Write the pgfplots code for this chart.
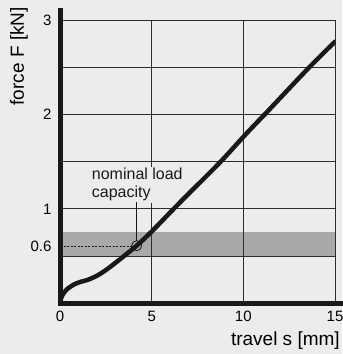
\documentclass[border=0pt]{standalone}
\usepackage{fontspec}
\setmainfont{Liberation Sans}
\usepackage{pgfplots}
\pgfplotsset{compat=1.18}
\usetikzlibrary{calc}
\definecolor{bg}{RGB}{236,236,238}
\definecolor{band}{RGB}{168,169,171}
\definecolor{gridc}{RGB}{45,45,45}
\definecolor{ink}{RGB}{25,25,25}
\pagecolor{bg}
\begin{document}
\begin{tikzpicture}
\begin{axis}[
    name=ax,
    set layers,
    scale only axis,
    width=275pt, height=283.3pt,
    xmin=0, xmax=15, ymin=0, ymax=3,
    axis lines=left,
    axis line style={-, line width=5pt, ink, line cap=rect},
    x axis line style={shorten >=-8pt},
    y axis line style={shorten >=-9.5pt},
    xtick={0,5,10,15},
    ytick={1,2,3},
    minor ytick={0.5,1.5,2.5},
    extra y ticks={0.6},
    extra y tick style={grid=none},
    xmajorgrids, ymajorgrids, yminorgrids,
    major grid style={gridc, line width=0.9pt},
    minor grid style={gridc, line width=0.9pt},
    major tick length=0pt, minor tick length=0pt,
    tick label style={font=\fontsize{15}{18}\selectfont},
    /pgf/number format/assume math mode=true,
    xticklabel style={yshift=-4pt},
    yticklabel style={xshift=-5pt},
    xlabel={travel s [mm]},
    ylabel={force F [kN]},
    label style={font=\fontsize{19}{22}\selectfont, inner sep=0pt},
    xlabel style={at={(axis description cs:1.018,-0.133)}, anchor=east},
    ylabel style={at={(axis description cs:-0.149,1.046)}, anchor=east},
]
% tolerance band
\addplot[on layer=axis background, fill=band, draw=none]
    coordinates {(0,0.5) (15,0.5) (15,0.75) (0,0.75)} -- cycle;
% label box sits over the grid but under the curve
\begin{pgfonlayer}{pre main}
\node[anchor=base west, fill=bg, inner sep=1.5pt, align=left,
      font=\fontsize{16}{18}\selectfont, text=ink]
    at (axis cs:1.65,1.116) {nominal load\\capacity};
\end{pgfonlayer}
% load-travel curve
\addplot[ink, line width=4.5pt, smooth, line cap=round] coordinates {
 (0,0) (0.09,0.07) (0.25,0.12) (0.45,0.16) (0.82,0.205) (1.18,0.23)
 (1.54,0.25) (2.09,0.30) (2.63,0.37) (3.36,0.48) (4.18,0.61) (5.0,0.76)
 (6.0,0.96) (6.91,1.14) (8.0,1.35) (8.91,1.53) (10.18,1.80) (11.36,2.04)
 (13.6,2.5) (15,2.77)
};
% nominal load marker
\addplot[ink, line width=0.7pt, dash pattern=on 2pt off 1.5pt] coordinates {(0,0.6) (4.18,0.6)};
\addplot[ink, line width=0.8pt] coordinates {(4.18,0.66) (4.18,1.07)};
\addplot[ink, only marks, mark=o, mark size=5pt, mark options={line width=0.8pt}]
    coordinates {(4.18,0.61)};
\end{axis}
\pgfresetboundingbox
\path ($(ax.south west)+(-60pt,-50.7pt)$) rectangle ($(ax.north east)+(7pt,20pt)$);
\end{tikzpicture}
\end{document}
